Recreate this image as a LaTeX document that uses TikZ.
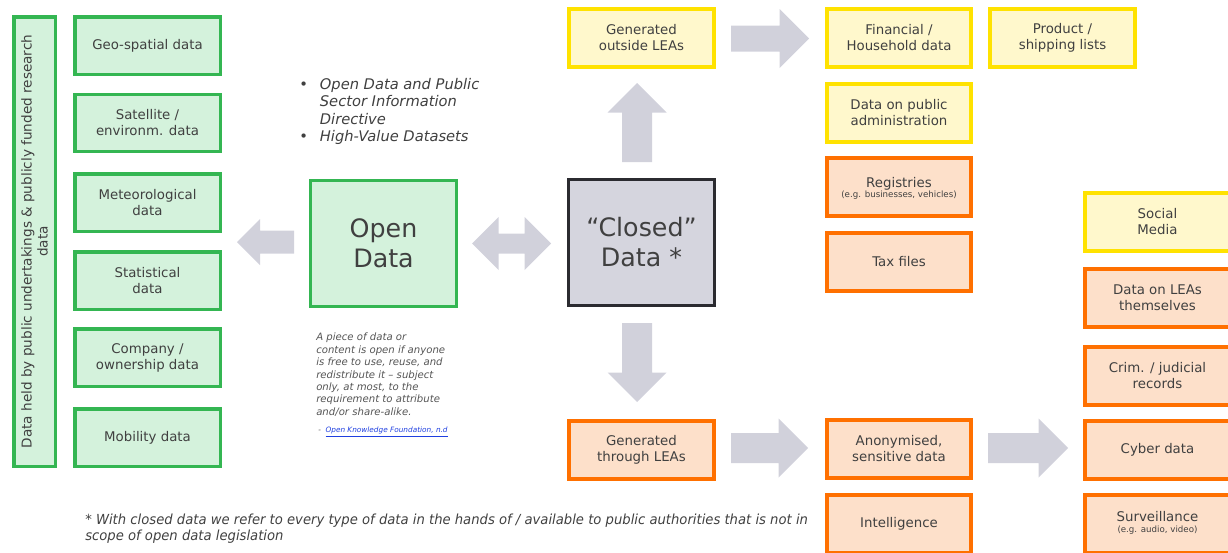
\documentclass[tikz,border=0pt]{standalone}
\usepackage{fontspec}
\setmainfont{DejaVu Sans}
\newfontfamily\notefont[FakeStretch=0.95]{DejaVu Sans}
\newcommand\tinynote{\fontsize{6.5}{7}\selectfont}
\definecolor{txt}{HTML}{404040}
\definecolor{quotetxt}{HTML}{555555}
\definecolor{gborder}{RGB}{52,182,82}
\definecolor{gfill}{HTML}{D4F2DC}
\definecolor{yborder}{RGB}{255,226,0}
\definecolor{yfill}{HTML}{FFF8CC}
\definecolor{oborder}{RGB}{255,112,0}
\definecolor{ofill}{HTML}{FDE0CA}
\definecolor{cborder}{HTML}{2B2B30}
\definecolor{cfill}{HTML}{D5D5DE}
\definecolor{arrowfill}{HTML}{D1D1DB}
\definecolor{linkblue}{HTML}{1F3FE0}
\begin{document}
\begin{tikzpicture}[x=0.75pt,y=-0.75pt,
  box/.style={rectangle, inner sep=0pt, align=center, text=txt,
    font=\fontsize{10}{12}\selectfont},
  gbox/.style={box, draw=gborder, fill=gfill, line width=2.6pt,
    minimum width=109.1pt, minimum height=43.1pt},
  ybox/.style={box, draw=yborder, fill=yfill, line width=3pt,
    minimum width=108.7pt, minimum height=43.5pt},
  obox/.style={box, draw=oborder, fill=ofill, line width=3pt,
    minimum width=108.7pt, minimum height=43.5pt},
  bigbox/.style={box, minimum width=109.2pt, minimum height=94.2pt,
    font=\fontsize{19}{22.5}\selectfont},
  pics/rarrow/.style n args={3}{code={
    \fill[arrowfill] ({-#1/2},{-#2}) -- ({#1/2-#3},{-#2}) -- ({#1/2-#3},{-#3})
      -- ({#1/2},0) -- ({#1/2-#3},{#3}) -- ({#1/2-#3},{#2}) -- ({-#1/2},{#2}) -- cycle;}},
  pics/dbarrow/.style n args={3}{code={
    \fill[arrowfill] ({-#1/2},0) -- ({-#1/2+#3},{-#3}) -- ({-#1/2+#3},{-#2})
      -- ({#1/2-#3},{-#2}) -- ({#1/2-#3},{-#3}) -- ({#1/2},0) -- ({#1/2-#3},{#3})
      -- ({#1/2-#3},{#2}) -- ({-#1/2+#3},{#2}) -- ({-#1/2+#3},{#3}) -- cycle;}}
]
\useasboundingbox (0,0) rectangle (1228,553);
\clip (0,0) rectangle (1228,553);

% left column: open data held by public bodies
\node[gbox, minimum width=31.1pt, minimum height=337.1pt] (held) at (34.5,241.5) {};
\node[box, rotate=90, font=\fontsize{10.2}{12}\selectfont] (heldlbl) at (held.center)
  {Data held by public undertakings \& publicly funded research\\data};
\node[gbox] (geo)  at (147.5,45.5)  {Geo-spatial data};
\node[gbox] (sat)  at (147.5,123)   {Satellite /\\environm. data};
\node[gbox] (met)  at (147.5,202.5) {Meteorological\\data};
\node[gbox] (stat) at (147.5,280.5) {Statistical\\data};
\node[gbox] (comp) at (147.5,357.5) {Company /\\ownership data};
\node[gbox] (mob)  at (147.5,437.5) {Mobility data};

% central boxes
\node[bigbox, draw=gborder, fill=gfill, line width=2.6pt] (open) at (383.5,243.5) {Open\\Data};
\node[bigbox, draw=cborder, fill=cfill, line width=2.4pt] (closed) at (641.5,242.5) {“Closed”\\Data *};

% legislation bullets
\node[anchor=north west, inner sep=0pt, text=txt, font=\fontsize{11}{13}\selectfont\itshape] (laws) at (299,77)
  {\begin{tabular}{@{}l@{\hspace{9pt}}l@{}}
   \upshape\textbullet & Open Data and Public\\
   & Sector Information\\
   & Directive\\
   \upshape\textbullet & High-Value Datasets
   \end{tabular}};

% open definition quote
\node[anchor=north west, inner sep=0pt, align=left, text=quotetxt,
  font=\fontsize{7.6}{9.3}\selectfont\itshape] (quote) at (316,333)
  {A piece of data or\\content is open if anyone\\is free to use, reuse, and\\redistribute it – subject\\only, at most, to the\\requirement to attribute\\and/or share-alike.};
\node[anchor=west, inner sep=0pt, font=\fontsize{5.5}{6}\selectfont\itshape] (cite) at (318,432)
  {\textcolor{quotetxt}{-}\ \ \textcolor{linkblue}{\underline{Open Knowledge Foundation, n.d}}};

% closed data: generated outside LEAs
\node[ybox] (gout) at (641.5,38)  {Generated\\outside LEAs};
\node[ybox] (fin)  at (899,38)    {Financial /\\Household data};
\node[ybox] (prod) at (1062.5,38) {Product /\\shipping lists};
\node[ybox] (pub)  at (899,113)   {Data on public\\administration};
\node[obox] (reg)  at (899,186.5) {\begin{tabular}{@{}c@{}}\rule{0pt}{12.5pt}Registries\\[-4pt]{\tinynote (e.g. businesses, vehicles)}\end{tabular}};
\node[obox] (tax)  at (899,261.5) {Tax files};

% closed data: generated through LEAs
\node[obox] (gthr)  at (641.5,449.5) {Generated\\through LEAs};
\node[obox] (anon)  at (899,448.5)   {Anonymised,\\sensitive data};
\node[obox] (intel) at (899,523.5)   {Intelligence};
\node[ybox] (soc)   at (1157.5,221.5) {Social\\Media};
\node[obox] (leas)  at (1157.5,297.5) {Data on LEAs\\themselves};
\node[obox] (crim)  at (1157.5,375.5) {Crim. / judicial\\records};
\node[obox] (cyber) at (1157.5,449.5) {Cyber data};
\node[obox] (surv)  at (1157.5,523.5) {\begin{tabular}{@{}c@{}}Surveillance\\[-4pt]{\tinynote (e.g. audio, video)}\end{tabular}};

% block arrows
\pic at (265.5,242) [rotate=180] {rarrow={57}{11.5}{23}};
\pic at (511.5,243.5) {dbarrow={79}{10}{26.5}};
\pic at (637,122.5) [rotate=90] {rarrow={79}{15}{29.5}};
\pic at (637,362.5) [rotate=-90] {rarrow={79}{15}{29.5}};
\pic at (770,38.5) {rarrow={78}{13}{29.5}};
\pic at (769.5,448) {rarrow={77}{15}{29.5}};
\pic at (1028,448) {rarrow={80}{15}{29.5}};

% footnote
\node[anchor=north west, inner sep=0pt, align=left, text=txt,
  font=\notefont\fontsize{10.4}{12}\itshape] (fnote) at (85,514)
  {* With closed data we refer to every type of data in the hands of / available to public authorities that is not in\\scope of open data legislation};
\end{tikzpicture}
\end{document}
